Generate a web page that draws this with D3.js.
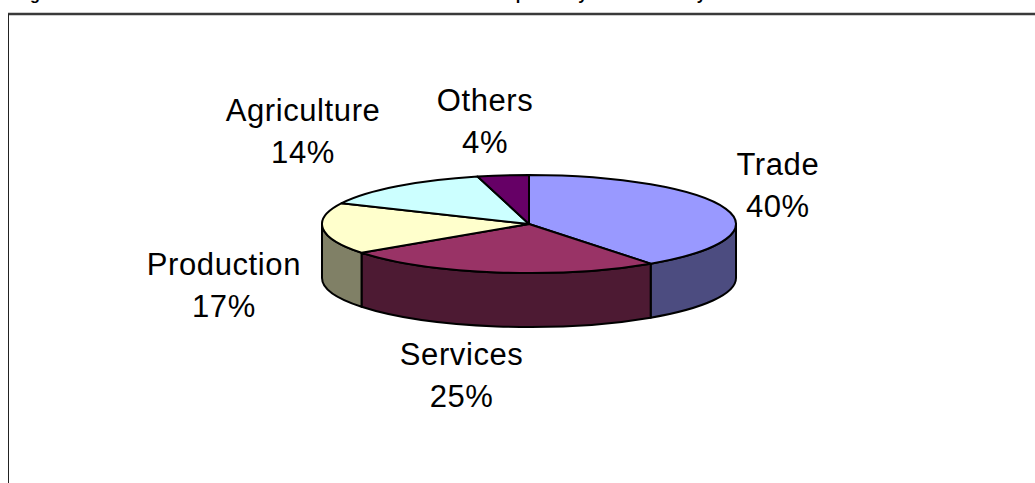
<!DOCTYPE html>
<html>
<head>
<meta charset="utf-8">
<script src="https://cdn.jsdelivr.net/npm/d3@7"></script>
<style>
  html, body { margin: 0; padding: 0; background: #fff; overflow: hidden; }
  svg { display: block; }
  text { font-family: "Liberation Sans", Arial, sans-serif; }
</style>
</head>
<body>
<svg id="chart" width="1035" height="483"></svg>
<script>
// ---- data ----
const categories = ["Trade", "Services", "Production", "Agriculture", "Others"];
const shares = [40, 25, 17, 14, 4];
const percentLabels = ["40%", "25%", "17%", "14%", "4%"];
const topColors = ["#9999FF", "#993366", "#FFFFCC", "#CCFFFF", "#660066"];
const sideColors = ["#4C4C80", "#4D1A33", "#808066", "#668080", "#330033"];
const titleText = "Figure 6: Distribution of the total number of all active small enterprises by kind of activity";

// ---- layout ----
const W = 1035, H = 483;
const cx = 529, cy = 224, rx = 207, ry = 49, depth = 54;
// label placement (first baseline), relative to the slice's rim point
const labelNudge = {
  Trade:       [52, -34],
  Services:    [-35, 39],
  Production:  [-99, -8],
  Agriculture: [-94, -65],
  Others:      [-18, -64]
};
const lineGap = 42;

const svg = d3.select("#chart");

// frame
svg.append("line").attr("x1", 8).attr("x2", W + 5).attr("y1", 14).attr("y2", 14)
  .attr("stroke", "#3a3a3a").attr("stroke-width", 2.5);
svg.append("line").attr("x1", 8.5).attr("x2", 8.5).attr("y1", 14).attr("y2", H + 5)
  .attr("stroke", "#222").attr("stroke-width", 1);

// title, mostly above the visible area (only descenders show, as in the reference)
svg.append("text").attr("x", 15.5).attr("y", 0)
  .attr("font-size", 16.3).attr("font-weight", "bold").attr("fill", "#000")
  .text(titleText);

const color = d3.scaleOrdinal().domain(categories).range(topColors);
const sideColor = d3.scaleOrdinal().domain(categories).range(sideColors);

const pie = d3.pie().sort(null).value(d => d.v).startAngle(0).endAngle(2 * Math.PI);
const arcs = pie(categories.map((c, i) => ({ c, v: shares[i], p: percentLabels[i] })));

const P = (a, dy = 0) => [cx + rx * Math.sin(a), cy - ry * Math.cos(a) + dy];

// sides (front half: angles between PI/2 and 3PI/2)
const g = svg.append("g");
arcs.forEach(d => {
  const b0 = Math.max(d.startAngle, Math.PI / 2);
  const b1 = Math.min(d.endAngle, 3 * Math.PI / 2);
  if (b1 <= b0) return;
  const p0 = P(b0), p1 = P(b1), q1 = P(b1, depth), q0 = P(b0, depth);
  const large = (b1 - b0) > Math.PI ? 1 : 0;
  const path = `M${p0}A${rx},${ry} 0 ${large} 1 ${p1}L${q1}A${rx},${ry} 0 ${large} 0 ${q0}Z`;
  g.append("path").attr("d", path)
    .attr("fill", sideColor(d.data.c))
    .attr("stroke", "#000").attr("stroke-width", 2).attr("stroke-linejoin", "round");
});

// tops
arcs.forEach(d => {
  const p0 = P(d.startAngle), p1 = P(d.endAngle);
  const large = (d.endAngle - d.startAngle) > Math.PI ? 1 : 0;
  const path = `M${cx},${cy}L${p0}A${rx},${ry} 0 ${large} 1 ${p1}Z`;
  g.append("path").attr("d", path)
    .attr("fill", color(d.data.c))
    .attr("stroke", "#000").attr("stroke-width", 2).attr("stroke-linejoin", "round");
});

// labels
arcs.forEach(d => {
  const mid = (d.startAngle + d.endAngle) / 2;
  const front = Math.cos(mid) < 0;
  const rim = P(mid, front ? depth : 0);
  const n = labelNudge[d.data.c];
  const x = rim[0] + n[0], y = rim[1] + n[1];
  const t = svg.append("text").attr("text-anchor", "middle")
    .attr("font-size", 31).attr("letter-spacing", 0.6).attr("fill", "#000");
  t.append("tspan").attr("x", x).attr("y", y).text(d.data.c);
  t.append("tspan").attr("x", x).attr("y", y + lineGap).text(d.data.p);
});
</script>
</body>
</html>
